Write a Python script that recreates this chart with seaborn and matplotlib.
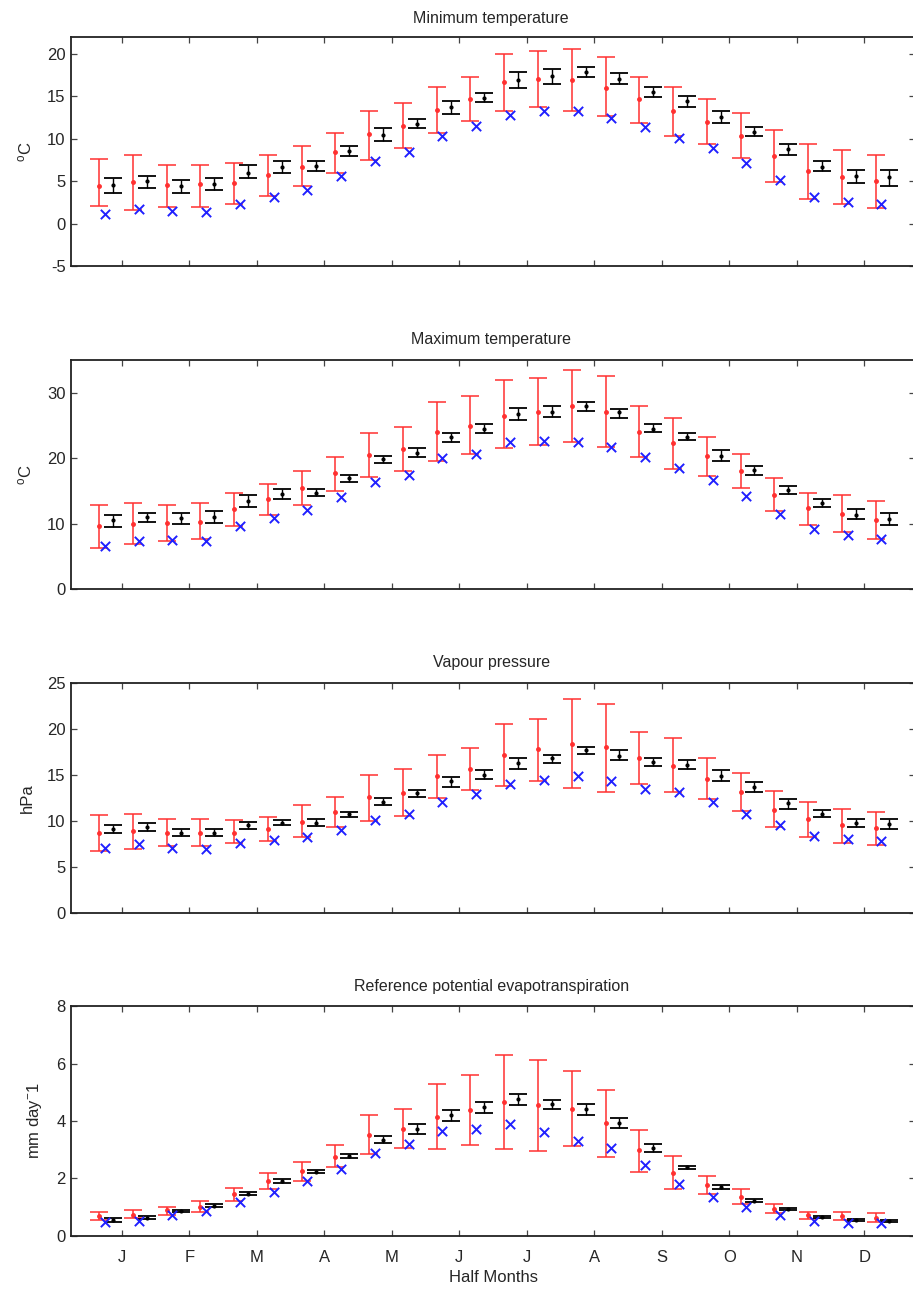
import numpy as np
import pandas as pd
import seaborn as sns
import matplotlib.pyplot as plt

# ------------------------------------------------------------------
# data, 24 half months
# ------------------------------------------------------------------
months = ['J', 'F', 'M', 'A', 'M', 'J', 'J', 'A', 'S', 'O', 'N', 'D']
half_month = np.arange(24)

# Minimum temperature (oC)
tmin_red = [4.4, 4.9, 4.5, 4.6, 4.8, 5.7, 6.7, 8.4, 10.5, 11.5, 13.4, 14.6,
            16.6, 17.0, 16.9, 16.0, 14.6, 13.3, 11.9, 10.3, 7.9, 6.2, 5.5, 5.0]
tmin_red_lo = [2.1, 1.6, 2.0, 2.0, 2.3, 3.2, 4.4, 6.0, 7.5, 8.9, 10.7, 12.1,
               13.3, 13.7, 13.3, 12.6, 11.8, 10.3, 9.3, 7.7, 4.9, 2.9, 2.3, 1.8]
tmin_red_hi = [7.6, 8.1, 6.9, 6.9, 7.1, 8.1, 9.1, 10.7, 13.3, 14.2, 16.1, 17.3,
               19.9, 20.3, 20.5, 19.6, 17.3, 16.1, 14.6, 13.0, 11.0, 9.3, 8.6, 8.1]
tmin_blk = [4.5, 5.0, 4.4, 4.6, 6.0, 6.7, 6.8, 8.5, 10.4, 11.7, 13.7, 14.8,
            16.9, 17.4, 17.8, 17.0, 15.5, 14.4, 12.5, 10.8, 8.8, 6.7, 5.6, 5.5]
tmin_blk_lo = [3.6, 4.2, 3.6, 3.9, 5.3, 6.0, 6.2, 7.9, 9.7, 11.2, 12.9, 14.3,
               16.0, 16.4, 17.3, 16.4, 14.9, 13.7, 11.8, 10.3, 8.1, 6.2, 4.8, 4.4]
tmin_blk_hi = [5.3, 5.6, 5.1, 5.3, 6.9, 7.4, 7.4, 9.1, 11.2, 12.3, 14.4, 15.4,
               17.8, 18.2, 18.4, 17.7, 16.1, 15.0, 13.2, 11.4, 9.4, 7.4, 6.3, 6.3]
tmin_obs = [1.1, 1.7, 1.5, 1.4, 2.3, 3.1, 3.9, 5.6, 7.3, 8.4, 10.3, 11.5,
            12.8, 13.2, 13.3, 12.4, 11.3, 10.1, 8.9, 7.1, 5.1, 3.1, 2.5, 2.3]

# Maximum temperature (oC)
tmax_red = [9.6, 10.0, 10.1, 10.3, 12.3, 13.7, 15.5, 17.7, 20.5, 21.4, 24.0, 24.9,
            26.5, 27.1, 28.0, 27.1, 24.0, 22.3, 20.3, 18.0, 14.4, 12.4, 11.5, 10.5]
tmax_red_lo = [6.3, 6.9, 7.4, 7.7, 9.7, 11.4, 12.8, 15.0, 17.2, 18.0, 19.6, 20.6,
               21.5, 22.0, 22.4, 21.7, 20.2, 18.4, 17.3, 15.5, 12.0, 9.8, 8.7, 7.7]
tmax_red_hi = [12.9, 13.2, 12.9, 13.2, 14.7, 16.0, 18.0, 20.2, 23.8, 24.7, 28.5, 29.5,
               31.9, 32.2, 33.4, 32.5, 27.9, 26.1, 23.2, 20.6, 16.9, 14.7, 14.4, 13.4]
tmax_blk = [10.5, 11.0, 10.8, 11.1, 13.5, 14.6, 14.7, 16.9, 19.8, 20.8, 23.2, 24.5,
            26.7, 27.1, 27.9, 27.0, 24.5, 23.3, 20.4, 18.2, 15.2, 13.2, 11.4, 10.7]
tmax_blk_lo = [9.5, 10.2, 10.0, 10.1, 12.6, 13.8, 14.2, 16.3, 19.2, 20.2, 22.5, 23.9,
               25.8, 26.3, 27.2, 26.2, 24.0, 22.7, 19.6, 17.5, 14.6, 12.6, 10.7, 9.8]
tmax_blk_hi = [11.4, 11.7, 11.6, 12.0, 14.4, 15.3, 15.3, 17.5, 20.4, 21.5, 23.9, 25.2,
               27.6, 27.9, 28.5, 27.5, 25.2, 23.9, 21.2, 18.8, 15.8, 13.7, 12.3, 11.6]
tmax_obs = [6.6, 7.4, 7.5, 7.4, 9.6, 10.9, 12.1, 14.1, 16.4, 17.5, 20.1, 20.7,
            22.4, 22.6, 22.4, 21.7, 20.2, 18.5, 16.6, 14.2, 11.5, 9.2, 8.3, 7.7]

# Vapour pressure (hPa)
vp_red = [8.7, 8.9, 8.7, 8.7, 8.7, 9.1, 9.9, 11.0, 12.6, 13.0, 14.9, 15.7,
          17.2, 17.8, 18.4, 18.0, 16.8, 16.0, 14.6, 13.2, 11.2, 10.2, 9.5, 9.2]
vp_red_lo = [6.7, 6.9, 7.3, 7.3, 7.6, 7.8, 8.2, 9.3, 10.0, 10.5, 12.5, 13.4,
             13.8, 14.4, 13.6, 13.2, 14.0, 13.1, 12.4, 11.1, 9.3, 8.2, 7.6, 7.4]
vp_red_hi = [10.6, 10.8, 10.2, 10.2, 10.1, 10.4, 11.7, 12.6, 15.0, 15.7, 17.2, 17.9,
             20.6, 21.1, 23.3, 22.7, 19.7, 19.0, 16.8, 15.2, 13.3, 12.1, 11.3, 11.0]
vp_blk = [9.1, 9.3, 8.7, 8.7, 9.6, 9.8, 9.8, 10.7, 12.1, 13.0, 14.3, 15.0,
          16.3, 16.8, 17.7, 17.1, 16.4, 16.1, 14.9, 13.7, 11.9, 10.8, 9.8, 9.7]
vp_blk_lo = [8.7, 8.9, 8.3, 8.3, 9.1, 9.6, 9.4, 10.4, 11.7, 12.6, 13.7, 14.6,
             15.7, 16.3, 17.3, 16.6, 16.0, 15.7, 14.4, 13.2, 11.3, 10.4, 9.3, 9.1]
vp_blk_hi = [9.6, 9.8, 9.1, 9.1, 9.9, 10.1, 10.2, 11.0, 12.5, 13.4, 14.8, 15.5,
             16.8, 17.2, 18.1, 17.7, 16.9, 16.6, 15.5, 14.2, 12.4, 11.2, 10.2, 10.2]
vp_obs = [7.1, 7.5, 7.1, 6.9, 7.6, 7.9, 8.2, 9.0, 10.1, 10.8, 12.1, 12.9,
          14.0, 14.5, 14.9, 14.3, 13.5, 13.2, 12.1, 10.8, 9.5, 8.4, 8.0, 7.8]

# Reference potential evapotranspiration (mm/day)
et_red = [0.69, 0.72, 0.89, 1.01, 1.45, 1.90, 2.25, 2.75, 3.50, 3.73, 4.14, 4.37,
          4.66, 4.55, 4.43, 3.93, 2.98, 2.19, 1.76, 1.36, 0.93, 0.72, 0.70, 0.61]
et_red_lo = [0.55, 0.60, 0.72, 0.83, 1.22, 1.61, 1.90, 2.38, 2.85, 3.04, 3.01, 3.15,
             3.02, 2.95, 3.13, 2.75, 2.23, 1.61, 1.47, 1.09, 0.78, 0.57, 0.55, 0.49]
et_red_hi = [0.83, 0.89, 1.01, 1.21, 1.65, 2.17, 2.57, 3.15, 4.20, 4.43, 5.30, 5.59,
             6.31, 6.14, 5.73, 5.09, 3.70, 2.78, 2.09, 1.61, 1.10, 0.83, 0.83, 0.78]
et_blk = [0.55, 0.63, 0.87, 1.04, 1.47, 1.90, 2.23, 2.77, 3.35, 3.73, 4.20, 4.49,
          4.78, 4.58, 4.40, 3.94, 3.07, 2.38, 1.70, 1.22, 0.92, 0.66, 0.55, 0.52]
et_blk_lo = [0.49, 0.57, 0.84, 0.99, 1.42, 1.84, 2.18, 2.71, 3.22, 3.56, 4.00, 4.28,
             4.55, 4.41, 4.22, 3.77, 2.92, 2.32, 1.64, 1.16, 0.88, 0.63, 0.51, 0.48]
et_blk_hi = [0.61, 0.69, 0.90, 1.10, 1.52, 1.96, 2.28, 2.83, 3.48, 3.89, 4.37, 4.66,
             4.95, 4.74, 4.58, 4.10, 3.19, 2.44, 1.76, 1.28, 0.96, 0.69, 0.59, 0.56]
et_obs = [0.49, 0.52, 0.72, 0.86, 1.18, 1.53, 1.91, 2.34, 2.87, 3.21, 3.64, 3.71,
          3.91, 3.62, 3.30, 3.04, 2.46, 1.80, 1.36, 0.99, 0.72, 0.52, 0.45, 0.45]

panels = [
    ("Minimum temperature", "$^{o}$C", (-5, 22), np.arange(-5, 21, 5),
     tmin_red, tmin_red_lo, tmin_red_hi, tmin_blk, tmin_blk_lo, tmin_blk_hi, tmin_obs),
    ("Maximum temperature", "$^{o}$C", (0, 35), np.arange(0, 31, 10),
     tmax_red, tmax_red_lo, tmax_red_hi, tmax_blk, tmax_blk_lo, tmax_blk_hi, tmax_obs),
    ("Vapour pressure", "hPa", (0, 25), np.arange(0, 26, 5),
     vp_red, vp_red_lo, vp_red_hi, vp_blk, vp_blk_lo, vp_blk_hi, vp_obs),
    ("Reference potential evapotranspiration", "mm day$^{-}$1", (0, 8), np.arange(0, 9, 2),
     et_red, et_red_lo, et_red_hi, et_blk, et_blk_lo, et_blk_hi, et_obs),
]

# ------------------------------------------------------------------
# style
# ------------------------------------------------------------------
sns.set_style("ticks")
plt.rcParams['font.family'] = ['Liberation Sans', 'DejaVu Sans']
plt.rcParams['mathtext.default'] = 'regular'
plt.rcParams['axes.unicode_minus'] = False
plt.rcParams['font.size'] = 12

fig = plt.figure(figsize=(9.13, 12.92), dpi=100)

# half-month centres in month units (J = 1)
centre = 0.75 + 0.5 * half_month
bottoms = [0.7941, 0.5439, 0.2936, 0.0436]
title_y = [0.9853, 0.7369, 0.4869, 0.2361]   # figure fraction, title centres

for i, (title, ylab, ylim, yticks, red, rlo, rhi, blk, blo, bhi, obs) in enumerate(panels):
    ax = fig.add_axes([0.0779, bottoms[i], 0.9244, 0.1776])
    red, rlo, rhi = np.array(red), np.array(rlo), np.array(rhi)
    blk, blo, bhi = np.array(blk), np.array(blo), np.array(bhi)

    ax.errorbar(centre - 0.085, red, yerr=[red - rlo, rhi - red], fmt='.',
                color='#ff3030', ms=5, elinewidth=1.1, capsize=6.5, capthick=1.1)
    ax.errorbar(centre + 0.12, blk, yerr=[blk - blo, bhi - blk], fmt='.',
                color='black', ms=4, elinewidth=1.0, capsize=6.5, capthick=1.3)
    df = pd.DataFrame({'x': centre, 'y': obs})
    sns.scatterplot(data=df, x='x', y='y', marker='x', color='#2020ff', s=45,
                    linewidth=1.4, ax=ax, zorder=3)

    ax.set_xlim(0.25, 12.75)
    ax.set_ylim(*ylim)
    ax.set_yticks(yticks)
    ax.set_xticks(np.arange(1, 13))
    if i == 3:
        ax.set_xticklabels(months)
        ax.set_xlabel("Half Months", labelpad=4)
    else:
        ax.set_xticklabels([])
        ax.set_xlabel("")
    ax.set_ylabel(ylab, labelpad=9)
    fig.text(0.0779 + 0.9244 / 2 - 0.002, title_y[i], title, ha='center', va='center',
             fontsize=11.5)
    ax.tick_params(direction='in', length=4.5, width=0.9, top=True, right=True,
                   color='#444444', pad=4)
    ax.tick_params(axis='x', pad=10)
    for s in ax.spines.values():
        s.set_visible(True)
        s.set_linewidth(1.3)
        s.set_color('#222222')

plt.savefig("out.png", dpi=100)
print("Saved out.png")
